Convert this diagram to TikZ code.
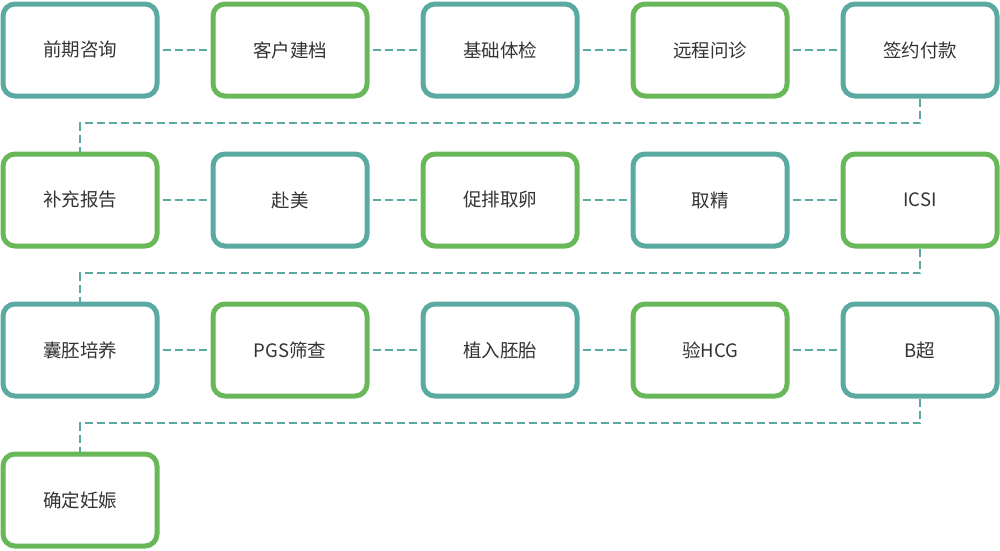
\documentclass[tikz,border=0pt]{standalone}
\usepackage{fontspec}
\setmainfont{Noto Sans CJK SC}
\definecolor{tealline}{HTML}{5AAAA2}
\definecolor{greenline}{HTML}{68B85A}
\definecolor{textgray}{HTML}{333333}
\tikzset{
    stepbase/.style={draw, line width=5pt, rounded corners=12pt,
        minimum width=154pt, minimum height=92pt, fill=white,
        text=textgray, font=\fontsize{18.5}{22}\selectfont},
    tealbox/.style={stepbase, draw=tealline},
    greenbox/.style={stepbase, draw=greenline},
    link/.style={draw=tealline, line width=2pt, dash pattern=on 8pt off 4pt}
}
\begin{document}
\begin{tikzpicture}[x=1pt, y=-1pt]
            \useasboundingbox (0, 0) rectangle (1000, 550);
            % row 1
            \node[tealbox] (s1) at (80, 50) {前期咨询};
            \node[greenbox] (s2) at (290, 50) {客户建档};
            \node[tealbox] (s3) at (500, 50) {基础体检};
            \node[greenbox] (s4) at (710, 50) {远程问诊};
            \node[tealbox] (s5) at (920, 50) {签约付款};
            % row 2
            \node[greenbox] (s6) at (80, 200) {补充报告};
            \node[tealbox] (s7) at (290, 200) {赴美};
            \node[greenbox] (s8) at (500, 200) {促排取卵};
            \node[tealbox] (s9) at (710, 200) {取精};
            \node[greenbox] (s10) at (920, 200) {ICSI};
            % row 3
            \node[tealbox] (s11) at (80, 350) {囊胚培养};
            \node[greenbox] (s12) at (290, 350) {PGS筛查};
            \node[tealbox] (s13) at (500, 350) {植入胚胎};
            \node[greenbox] (s14) at (710, 350) {验HCG};
            \node[tealbox] (s15) at (920, 350) {B超};
            % row 4
            \node[greenbox] (s16) at (80, 500) {确定妊娠};

            \draw[link, shorten <=3pt, shorten >=3pt] (s1) -- (s2);
            \draw[link, shorten <=3pt, shorten >=3pt] (s2) -- (s3);
            \draw[link, shorten <=3pt, shorten >=3pt] (s3) -- (s4);
            \draw[link, shorten <=3pt, shorten >=3pt] (s4) -- (s5);
            \draw[link] (s5.south) -- ++(0, 24.5) -| (s6.north);
            \draw[link, shorten <=3pt, shorten >=3pt] (s6) -- (s7);
            \draw[link, shorten <=3pt, shorten >=3pt] (s7) -- (s8);
            \draw[link, shorten <=3pt, shorten >=3pt] (s8) -- (s9);
            \draw[link, shorten <=3pt, shorten >=3pt] (s9) -- (s10);
            \draw[link] (s10.south) -- ++(0, 24.5) -| (s11.north);
            \draw[link, shorten <=3pt, shorten >=3pt] (s11) -- (s12);
            \draw[link, shorten <=3pt, shorten >=3pt] (s12) -- (s13);
            \draw[link, shorten <=3pt, shorten >=3pt] (s13) -- (s14);
            \draw[link, shorten <=3pt, shorten >=3pt] (s14) -- (s15);
            \draw[link] (s15.south) -- ++(0, 24.5) -| (s16.north);
\end{tikzpicture}
\end{document}
